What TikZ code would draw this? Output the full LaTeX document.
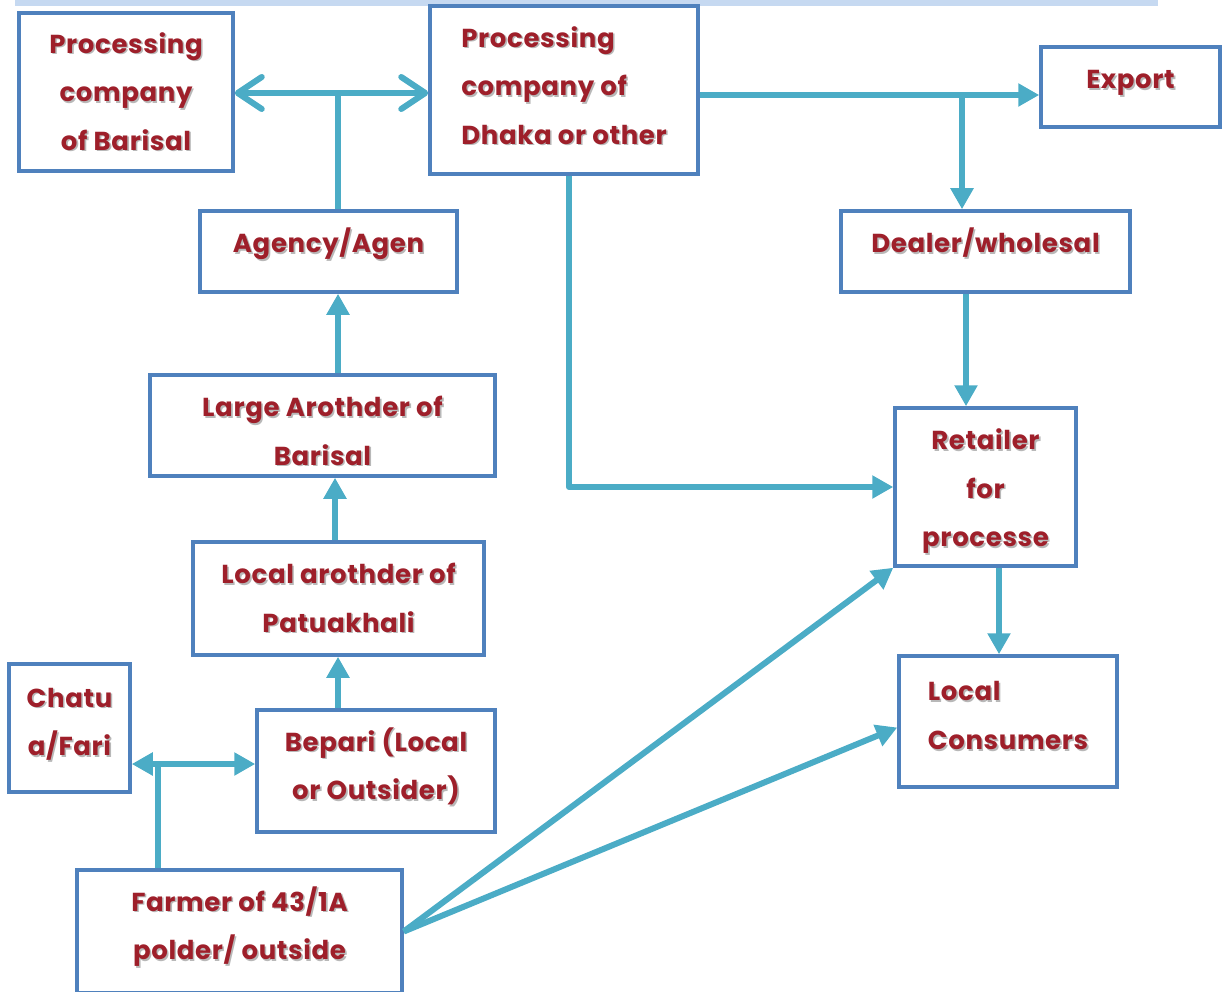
\documentclass[tikz,border=0pt]{standalone}
\usepackage{fontspec}
\setmainfont{Poppins}[LetterSpace=2.5]
\usetikzlibrary{arrows.meta}
\definecolor{boxc}{HTML}{4F81BD}
\definecolor{flowc}{HTML}{4BACC6}
\definecolor{txtc}{HTML}{9E1F2A}
\definecolor{shadc}{HTML}{B8B8B8}
\definecolor{bandc}{HTML}{C6D9F1}
% text with a soft grey drop shadow
\newcommand\sh[1]{\leavevmode\rlap{\kern1.6pt\raisebox{-1.6pt}{\textcolor{shadc}{#1}}}#1}
% shadowed text moved up or down without changing its box
\newcommand\shv[2]{\raisebox{#1}[\height][\depth]{\sh{#2}}}
\tikzset{
  stagebox/.style={draw=boxc, line width=3.5pt, fill=white, text=txtc,
    font=\fontsize{26}{48.5}\selectfont\bfseries, align=center, inner sep=0pt},
  flow/.style={draw=flowc, line width=6pt, line join=round},
  tri/.tip={Triangle[length=21pt,width=22pt]},
  barb/.tip={Straight Barb[length=24pt,width=32pt,round]},
}
\begin{document}
\begin{tikzpicture}[x=1pt,y=-1pt]
\useasboundingbox (0,0) rectangle (1222,992);
\fill[bandc] (15,0) rectangle (1158,6.5);

% stages of the chain
\node[stagebox, minimum width=214pt, minimum height=158pt] (barisal) at (126,92)
  {\sh{Processing}\\\sh{company}\\\sh{of Barisal}};
\node[stagebox, minimum width=268pt, minimum height=168pt, align=left] (dhaka) at (564,90)
  {\shv{4pt}{Processing}\\\shv{4pt}{company of}\\\shv{4pt}{Dhaka or other}};
\node[stagebox, minimum width=179pt, minimum height=80pt] (export) at (1130.5,87)
  {\shv{3pt}{Export}};
\node[stagebox, minimum width=257pt, minimum height=81pt] (agency) at (328.5,251.5)
  {\shv{7pt}{Agency/Agen}};
\node[stagebox, minimum width=289pt, minimum height=81pt] (dealer) at (985.5,251.5)
  {\shv{8pt}{Dealer/wholesal}};
\node[stagebox, minimum width=345pt, minimum height=101pt] (large) at (322.5,425.5)
  {\shv{-6pt}{Large Arothder of}\\\shv{-6pt}{Barisal}};
\node[stagebox, minimum width=181pt, minimum height=158pt] (retailer) at (985.5,487)
  {\shv{-5pt}{Retailer}\\\shv{-5pt}{for}\\\shv{-5pt}{processe}};
\node[stagebox, minimum width=291pt, minimum height=113pt] (localaro) at (338.5,598.5)
  {\sh{Local arothder of}\\\sh{Patuakhali}};
\node[stagebox, minimum width=218pt, minimum height=131pt, align=left] (consumers) at (1008,721.5)
  {\shv{5pt}{Local}\\\shv{5pt}{Consumers}};
\node[stagebox, minimum width=121pt, minimum height=128pt] (chatu) at (69.5,728)
  {\shv{3pt}{Chatu}\\\shv{3pt}{a/Fari}};
\node[stagebox, minimum width=238pt, minimum height=122pt] (bepari) at (376,771)
  {\shv{4pt}{Bepari (Local}\\\shv{4pt}{or Outsider)}};
\node[stagebox, minimum width=325pt, minimum height=123pt] (farmer) at (239.5,931.5)
  {\shv{4pt}{Farmer of 43/1A}\\\shv{4pt}{polder/ outside}};

% junction points of the branching connectors
\coordinate (jtop) at (338,93);
\coordinate (jexp) at (962,95);
\coordinate (jdeal) at (966,0);
\coordinate (jchat) at (158,764);

% upper flows
\draw[flow, barb-barb] (barisal.east |- jtop) -- (dhaka.west |- jtop);
\draw[flow] (agency.north -| jtop) -- (jtop);
\draw[flow, -tri] (dhaka.east |- jexp) -- (export.west |- jexp);
\draw[flow, -tri] (jexp) -- (dealer.north -| jexp);
\draw[flow, -tri] (dealer.south -| jdeal) -- (retailer.north -| jdeal);
\draw[flow, -tri] ([xshift=5pt]dhaka.south) |- (retailer.west);
\draw[flow, -tri] ([xshift=13.5pt]retailer.south) -- ([xshift=13.5pt]retailer.south |- consumers.north);

% chain up the left side
\draw[flow, -tri] (large.north -| jtop) -- (agency.south -| jtop);
\draw[flow, -tri] ([xshift=-3pt]localaro.north -| jtop) -- ([xshift=-3pt]large.south -| jtop);
\draw[flow, -tri] (bepari.north -| jtop) -- (localaro.south -| jtop);

% farmer outlets
\draw[flow, tri-tri] (chatu.east |- jchat) -- (bepari.west |- jchat);
\draw[flow] (farmer.north -| jchat) -- (jchat);
\draw[flow, -tri] (farmer.east) -- (retailer.south west);
\draw[flow, -tri] (farmer.east) -- ([yshift=-6pt]consumers.west);
\end{tikzpicture}
\end{document}
